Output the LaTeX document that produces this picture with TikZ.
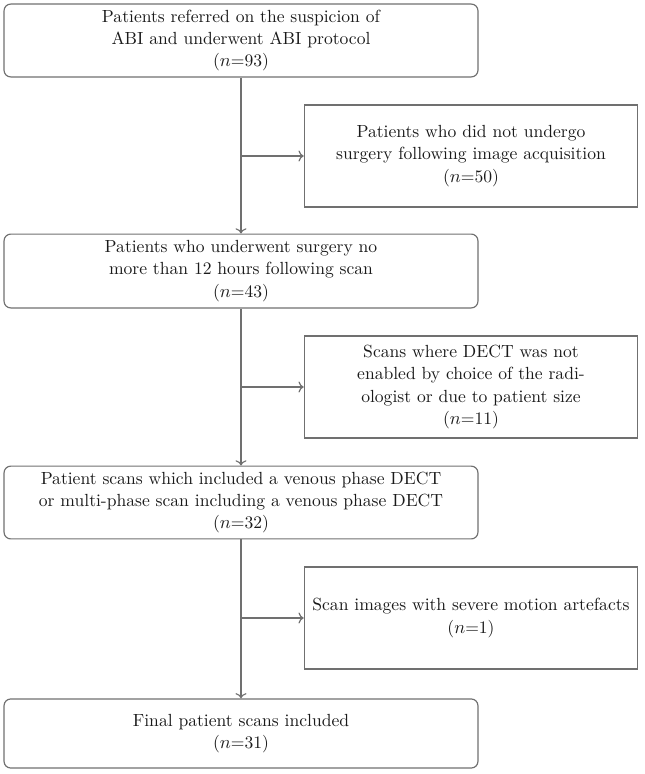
\documentclass[tikz,border=0pt]{standalone}
\usepackage{amsmath}
\usepackage{xcolor}
\usetikzlibrary{positioning,arrows.meta}

\definecolor{boxline}{HTML}{707070}
\definecolor{boxtext}{HTML}{1A1A1A}

\tikzset{
  mainbox/.style={draw=boxline, line width=0.7pt, rounded corners=4pt, align=center,
    minimum width=9.95cm, text=boxtext, font=\fontsize{10.5}{13.4}\selectfont},
  sidebox/.style={draw=boxline, line width=0.7pt, align=center,
    minimum width=7.0cm, minimum height=2.14cm, text=boxtext, font=\fontsize{10.5}{13.4}\selectfont},
  flow/.style={draw=boxline, line width=0.7pt, ->},
}

\begin{document}
\begin{tikzpicture}[x=0.021cm, y=-0.021cm]
    % Frame
    \useasboundingbox (0, 0) rectangle (644, 774);

    % Main column
    \node[mainbox, minimum height=1.53cm] (referred) at (241, 40.5)
      {Patients referred on the suspicion of\\ ABI and underwent ABI protocol\\ ($n$=93)};
    \node[mainbox, minimum height=1.55cm] (surgery) at (241, 271)
      {Patients who underwent surgery no\\ more than 12 hours following scan\\ ($n$=43)};
    \node[mainbox, minimum height=1.49cm] (venous) at (241, 502.5)
      {Patient scans which included a venous phase DECT\\ or multi-phase scan including a venous phase DECT\\ ($n$=32)};
    \node[mainbox, minimum height=1.45cm] (final) at (241, 733.5)
      {Final patient scans included\\ ($n$=31)};

    % Excluded
    \node[sidebox] (nosurgery) at (471, 156)
      {Patients who did not undergo\\ surgery following image acquisition\\ ($n$=50)};
    \node[sidebox] (nodect) at (471, 387)
      {Scans where DECT was not\\ enabled by choice of the radi-\\ ologist or due to patient size\\ ($n$=11)};
    \node[sidebox] (motion) at (471, 618)
      {Scan images with severe motion artefacts\\ ($n$=1)};

    % Vertical arrows
    \draw[flow] (referred) -- (surgery);
    \draw[flow] (surgery) -- (venous);
    \draw[flow] (venous) -- (final);

    % Side arrows
    \draw[flow] (nosurgery.west -| referred.south) -- (nosurgery.west);
    \draw[flow] (nodect.west -| surgery.south) -- (nodect.west);
    \draw[flow] (motion.west -| venous.south) -- (motion.west);
\end{tikzpicture}
\end{document}
